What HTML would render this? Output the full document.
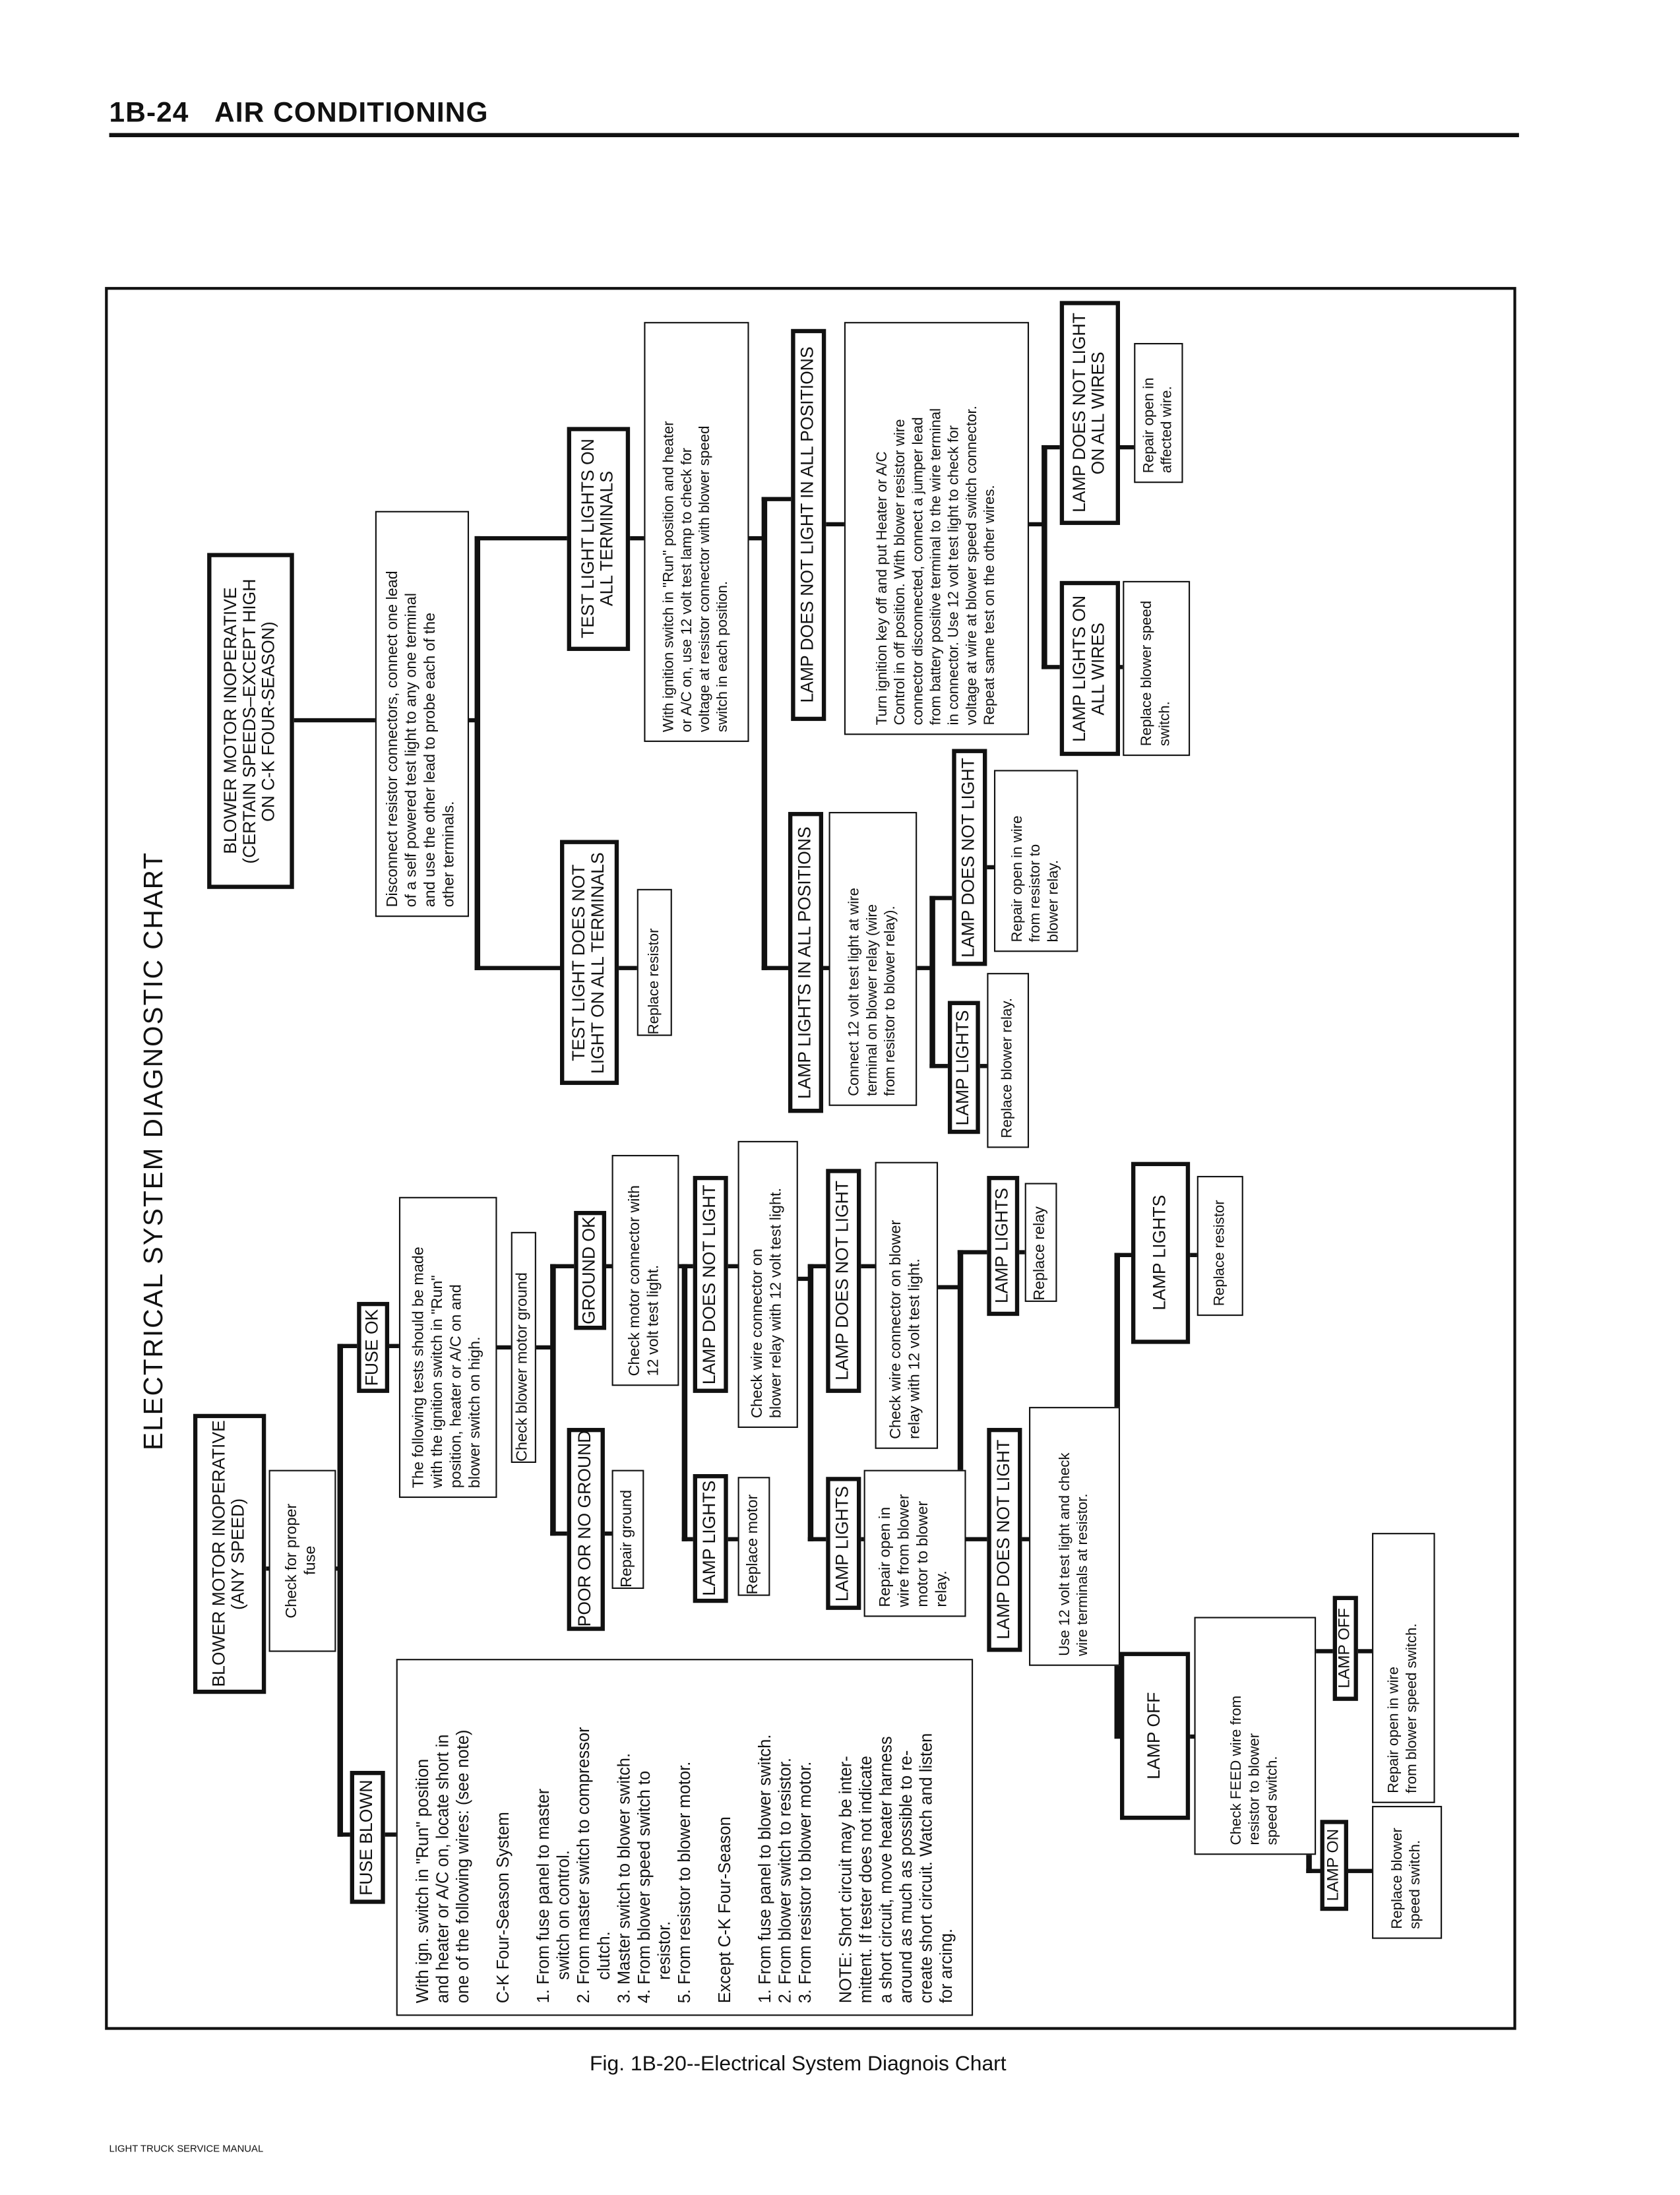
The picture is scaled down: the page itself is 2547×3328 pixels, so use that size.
<!DOCTYPE html>
<html><head><meta charset="utf-8">
<style>
html,body{margin:0;padding:0;background:#fff;}
body{width:2547px;height:3327px;overflow:hidden;position:relative;}
#c{position:absolute;left:0;top:0;width:1200px;height:1568px;transform:scale(2.1225);transform-origin:0 0;font-family:"Liberation Sans",sans-serif;color:#111;}
.bx{position:absolute;box-sizing:border-box;border:1.6px solid #111;background:#fff;writing-mode:vertical-rl;transform:rotate(180deg);display:flex;flex-direction:column;justify-content:center;padding:6px 4px;font-size:11px;line-height:1.22;white-space:pre;text-align:start;overflow:visible;}
.t{border-width:3.5px;text-align:center;font-size:12.5px;line-height:1.08;padding:0 1px;}
.n{font-size:10.5px;}
.l{position:absolute;background:#111;}
</style></head><body><div id="c">
<div style="position:absolute;left:78px;top:70px;font-weight:bold;font-size:20px;letter-spacing:0.5px;">1B-24&nbsp;&nbsp;&nbsp;AIR CONDITIONING</div>
<div class="l" style="left:78px;top:95px;width:1007px;height:3px;"></div>
<div style="position:absolute;left:75px;top:205px;width:1008px;height:1245px;border:2px solid #111;box-sizing:border-box;"></div>
<div style="position:absolute;left:100px;top:600px;width:30px;height:445px;writing-mode:vertical-rl;transform:rotate(180deg);font-size:19px;text-align:center;letter-spacing:1px;white-space:nowrap;display:flex;justify-content:center;">ELECTRICAL SYSTEM DIAGNOSTIC CHART</div>
<div style="position:absolute;left:0;width:1140px;top:1466px;text-align:center;font-size:15px;">Fig. 1B-20--Electrical System Diagnois Chart</div>
<div style="position:absolute;left:78px;top:1532px;font-size:7px;">LIGHT TRUCK SERVICE MANUAL</div>

<!-- connectors lower -->
<div class="l" style="left:190px;top:1119px;width:53px;height:3px"></div>
<div class="l" style="left:241px;top:960px;width:4px;height:352px"></div>
<div class="l" style="left:241px;top:960px;width:16px;height:3px"></div>
<div class="l" style="left:241px;top:1309px;width:11px;height:3px"></div>
<div class="l" style="left:274px;top:1309px;width:10px;height:3px"></div>
<div class="l" style="left:277px;top:960px;width:10px;height:3px"></div>
<div class="l" style="left:354px;top:961px;width:12px;height:3px"></div>
<div class="l" style="left:382px;top:961px;width:14px;height:3px"></div>
<div class="l" style="left:393px;top:903px;width:4px;height:194px"></div>
<div class="l" style="left:393px;top:903px;width:18px;height:3px"></div>
<div class="l" style="left:393px;top:1094px;width:13px;height:3px"></div>
<div class="l" style="left:431px;top:1094px;width:7px;height:3px"></div>
<div class="l" style="left:432px;top:903px;width:6px;height:3px"></div>
<div class="l" style="left:484px;top:903px;width:5px;height:3px"></div>
<div class="l" style="left:487px;top:903px;width:4px;height:198px"></div>
<div class="l" style="left:487px;top:903px;width:9px;height:3px"></div>
<div class="l" style="left:487px;top:1098px;width:9px;height:3px"></div>
<div class="l" style="left:519px;top:1098px;width:9px;height:3px"></div>
<div class="l" style="left:519px;top:903px;width:9px;height:3px"></div>
<div class="l" style="left:569px;top:912px;width:10px;height:3px"></div>
<div class="l" style="left:577px;top:903px;width:4px;height:198px"></div>
<div class="l" style="left:577px;top:903px;width:14px;height:3px"></div>
<div class="l" style="left:577px;top:1098px;width:14px;height:3px"></div>
<div class="l" style="left:614px;top:1098px;width:4px;height:3px"></div>
<div class="l" style="left:614px;top:903px;width:12px;height:3px"></div>
<div class="l" style="left:669px;top:918px;width:17px;height:3px"></div>
<div class="l" style="left:684px;top:893px;width:4px;height:208px"></div>
<div class="l" style="left:684px;top:893px;width:22px;height:3px"></div>
<div class="l" style="left:684px;top:1098px;width:22px;height:3px"></div>
<div class="l" style="left:727px;top:893px;width:6px;height:3px"></div>
<div class="l" style="left:729px;top:1098px;width:7px;height:3px"></div>
<div class="l" style="left:796px;top:895px;width:4px;height:347px"></div>
<div class="l" style="left:796px;top:895px;width:13px;height:3px"></div>
<div class="l" style="left:796px;top:1239px;width:6px;height:3px"></div>
<div class="l" style="left:849px;top:895px;width:7px;height:3px"></div>
<div class="l" style="left:849px;top:1239px;width:5px;height:3px"></div>
<div class="l" style="left:933px;top:1178px;width:4px;height:160px"></div>
<div class="l" style="left:933px;top:1178px;width:20px;height:3px"></div>
<div class="l" style="left:933px;top:1335px;width:11px;height:3px"></div>
<div class="l" style="left:969px;top:1178px;width:12px;height:3px"></div>
<div class="l" style="left:962px;top:1335px;width:19px;height:3px"></div>

<!-- connectors upper -->
<div class="l" style="left:209px;top:513px;width:60px;height:3px"></div>
<div class="l" style="left:334px;top:513px;width:7px;height:3px"></div>
<div class="l" style="left:339px;top:383px;width:4px;height:310px"></div>
<div class="l" style="left:339px;top:383px;width:67px;height:3px"></div>
<div class="l" style="left:339px;top:690px;width:62px;height:3px"></div>
<div class="l" style="left:441px;top:690px;width:15px;height:3px"></div>
<div class="l" style="left:449px;top:383px;width:12px;height:3px"></div>
<div class="l" style="left:534px;top:383px;width:12px;height:3px"></div>
<div class="l" style="left:544px;top:355px;width:4px;height:338px"></div>
<div class="l" style="left:544px;top:355px;width:22px;height:3px"></div>
<div class="l" style="left:544px;top:690px;width:20px;height:3px"></div>
<div class="l" style="left:587px;top:690px;width:6px;height:3px"></div>
<div class="l" style="left:589px;top:373px;width:15px;height:3px"></div>
<div class="l" style="left:654px;top:690px;width:12px;height:3px"></div>
<div class="l" style="left:664px;top:640px;width:4px;height:123px"></div>
<div class="l" style="left:664px;top:640px;width:17px;height:3px"></div>
<div class="l" style="left:664px;top:760px;width:14px;height:3px"></div>
<div class="l" style="left:704px;top:618px;width:7px;height:3px"></div>
<div class="l" style="left:699px;top:760px;width:7px;height:3px"></div>
<div class="l" style="left:734px;top:373px;width:12px;height:3px"></div>
<div class="l" style="left:744px;top:318px;width:4px;height:160px"></div>
<div class="l" style="left:744px;top:318px;width:14px;height:3px"></div>
<div class="l" style="left:744px;top:475px;width:14px;height:3px"></div>
<div class="l" style="left:799px;top:318px;width:12px;height:3px"></div>
<div class="l" style="left:799px;top:475px;width:3px;height:3px"></div>

<!-- lower boxes -->
<div class="bx t" style="left:138px;top:1010px;width:52px;height:200px;">BLOWER MOTOR INOPERATIVE
(ANY SPEED)</div>
<div class="bx" style="left:192px;top:1050px;width:48px;height:130px;text-align:center;">Check for proper
fuse</div>
<div class="bx t" style="left:255px;top:930px;width:23px;height:65px;">FUSE OK</div>
<div class="bx t" style="left:250px;top:1265px;width:25px;height:95px;">FUSE BLOWN</div>
<div class="bx" style="left:283px;top:1185px;width:412px;height:255px;font-size:12px;line-height:1.2;padding:8px 4px;">With ign. switch in "Run" position
and heater or A/C on, locate short in
one of the following wires: (see note)

C-K Four-Season System

1. From fuse panel to master
     switch on control.
2. From master switch to compressor
     clutch.
3. Master switch to blower switch.
4. From blower speed switch to
     resistor.
5. From resistor to blower motor.

Except C-K Four-Season

1. From fuse panel to blower switch.
2. From blower switch to resistor.
3. From resistor to blower motor.

NOTE: Short circuit may be inter-
mittent. If tester does not indicate
a short circuit, move heater harness
around as much as possible to re-
create short circuit. Watch and listen
for arcing.</div>
<div class="bx" style="left:285px;top:855px;width:70px;height:215px;">The following tests should be made
with the ignition switch in "Run"
position, heater or A/C on and
blower switch on high.</div>
<div class="bx" style="left:365px;top:880px;width:18px;height:165px;padding:0 1px;">Check blower motor ground</div>
<div class="bx t" style="left:410px;top:865px;width:23px;height:85px;">GROUND OK</div>
<div class="bx t" style="left:405px;top:1020px;width:27px;height:145px;">POOR OR NO GROUND</div>
<div class="bx" style="left:437px;top:1050px;width:23px;height:85px;padding:0 2px;">Repair ground</div>
<div class="bx" style="left:437px;top:825px;width:48px;height:165px;">Check motor connector with
12 volt test light.</div>
<div class="bx t" style="left:495px;top:840px;width:25px;height:155px;">LAMP DOES NOT LIGHT</div>
<div class="bx t" style="left:495px;top:1053px;width:25px;height:92px;">LAMP LIGHTS</div>
<div class="bx" style="left:527px;top:1055px;width:23px;height:85px;padding:0 2px;">Replace motor</div>
<div class="bx" style="left:527px;top:815px;width:43px;height:205px;">Check wire connector on
blower relay with 12 volt test light.</div>
<div class="bx t" style="left:590px;top:835px;width:25px;height:160px;">LAMP DOES NOT LIGHT</div>
<div class="bx t" style="left:590px;top:1055px;width:25px;height:95px;">LAMP LIGHTS</div>
<div class="bx" style="left:617px;top:1050px;width:73px;height:105px;">Repair open in
wire from blower
motor to blower
relay.</div>
<div class="bx" style="left:625px;top:830px;width:45px;height:205px;">Check wire connector on blower
relay with 12 volt test light.</div>
<div class="bx t" style="left:705px;top:840px;width:23px;height:100px;">LAMP LIGHTS</div>
<div class="bx" style="left:732px;top:845px;width:23px;height:85px;padding:0 2px;">Replace relay</div>
<div class="bx t" style="left:705px;top:1020px;width:25px;height:160px;">LAMP DOES NOT LIGHT</div>
<div class="bx n" style="left:735px;top:1005px;width:65px;height:185px;">Use 12 volt test light and check
wire terminals at resistor.</div>
<div class="bx t" style="left:808px;top:830px;width:42px;height:130px;">LAMP LIGHTS</div>
<div class="bx n" style="left:855px;top:840px;width:33px;height:100px;">Replace resistor</div>
<div class="bx t" style="left:800px;top:1180px;width:50px;height:120px;">LAMP OFF</div>
<div class="bx n" style="left:853px;top:1155px;width:87px;height:170px;">Check FEED wire from
resistor to blower
speed switch.</div>
<div class="bx t" style="left:952px;top:1140px;width:18px;height:75px;font-size:11.5px;">LAMP OFF</div>
<div class="bx n" style="left:980px;top:1095px;width:45px;height:193px;">Repair open in wire
from blower speed switch.</div>
<div class="bx t" style="left:943px;top:1300px;width:20px;height:65px;font-size:11.5px;">LAMP ON</div>
<div class="bx n" style="left:980px;top:1290px;width:50px;height:95px;">Replace blower
speed switch.</div>

<!-- upper boxes -->
<div class="bx t" style="left:148px;top:395px;width:62px;height:240px;">BLOWER MOTOR INOPERATIVE
(CERTAIN SPEEDS–EXCEPT HIGH
ON C-K FOUR-SEASON)</div>
<div class="bx" style="left:268px;top:365px;width:67px;height:290px;">Disconnect resistor connectors, connect one lead
of a self powered test light to any one terminal
and use the other lead to probe each of the
other terminals.</div>
<div class="bx t" style="left:405px;top:305px;width:45px;height:160px;">TEST LIGHT LIGHTS ON
ALL TERMINALS</div>
<div class="bx t" style="left:400px;top:600px;width:42px;height:175px;">TEST LIGHT DOES NOT
LIGHT ON ALL TERMINALS</div>
<div class="bx n" style="left:455px;top:635px;width:25px;height:105px;padding:0 2px;">Replace resistor</div>
<div class="bx n" style="left:460px;top:230px;width:75px;height:300px;">With ignition switch in "Run" position and heater
or A/C on, use 12 volt test lamp to check for
voltage at resistor connector with blower speed
switch in each position.</div>
<div class="bx t" style="left:565px;top:235px;width:25px;height:280px;">LAMP DOES NOT LIGHT IN ALL POSITIONS</div>
<div class="bx t" style="left:563px;top:580px;width:25px;height:215px;">LAMP LIGHTS IN ALL POSITIONS</div>
<div class="bx n" style="left:592px;top:580px;width:63px;height:210px;">Connect 12 volt test light at wire
terminal on blower relay (wire
from resistor to blower relay).</div>
<div class="bx t" style="left:677px;top:715px;width:23px;height:95px;">LAMP LIGHTS</div>
<div class="bx n" style="left:705px;top:695px;width:30px;height:125px;">Replace blower relay.</div>
<div class="bx t" style="left:680px;top:535px;width:25px;height:155px;">LAMP DOES NOT LIGHT</div>
<div class="bx n" style="left:710px;top:550px;width:60px;height:130px;">Repair open in wire
from resistor to
blower relay.</div>
<div class="bx n" style="left:603px;top:230px;width:132px;height:295px;font-size:10.5px;">Turn ignition key off and put Heater or A/C
Control in off position. With blower resistor wire
connector disconnected, connect a jumper lead
from battery positive terminal to the wire terminal
in connector. Use 12 volt test light to check for
voltage at wire at blower speed switch connector.
Repeat same test on the other wires.</div>
<div class="bx t" style="left:757px;top:415px;width:43px;height:125px;">LAMP LIGHTS ON
ALL WIRES</div>
<div class="bx n" style="left:802px;top:415px;width:48px;height:125px;">Replace blower speed
switch.</div>
<div class="bx t" style="left:757px;top:215px;width:43px;height:160px;">LAMP DOES NOT LIGHT
ON ALL WIRES</div>
<div class="bx n" style="left:810px;top:245px;width:35px;height:100px;">Repair open in
affected wire.</div>
</div></body></html>
